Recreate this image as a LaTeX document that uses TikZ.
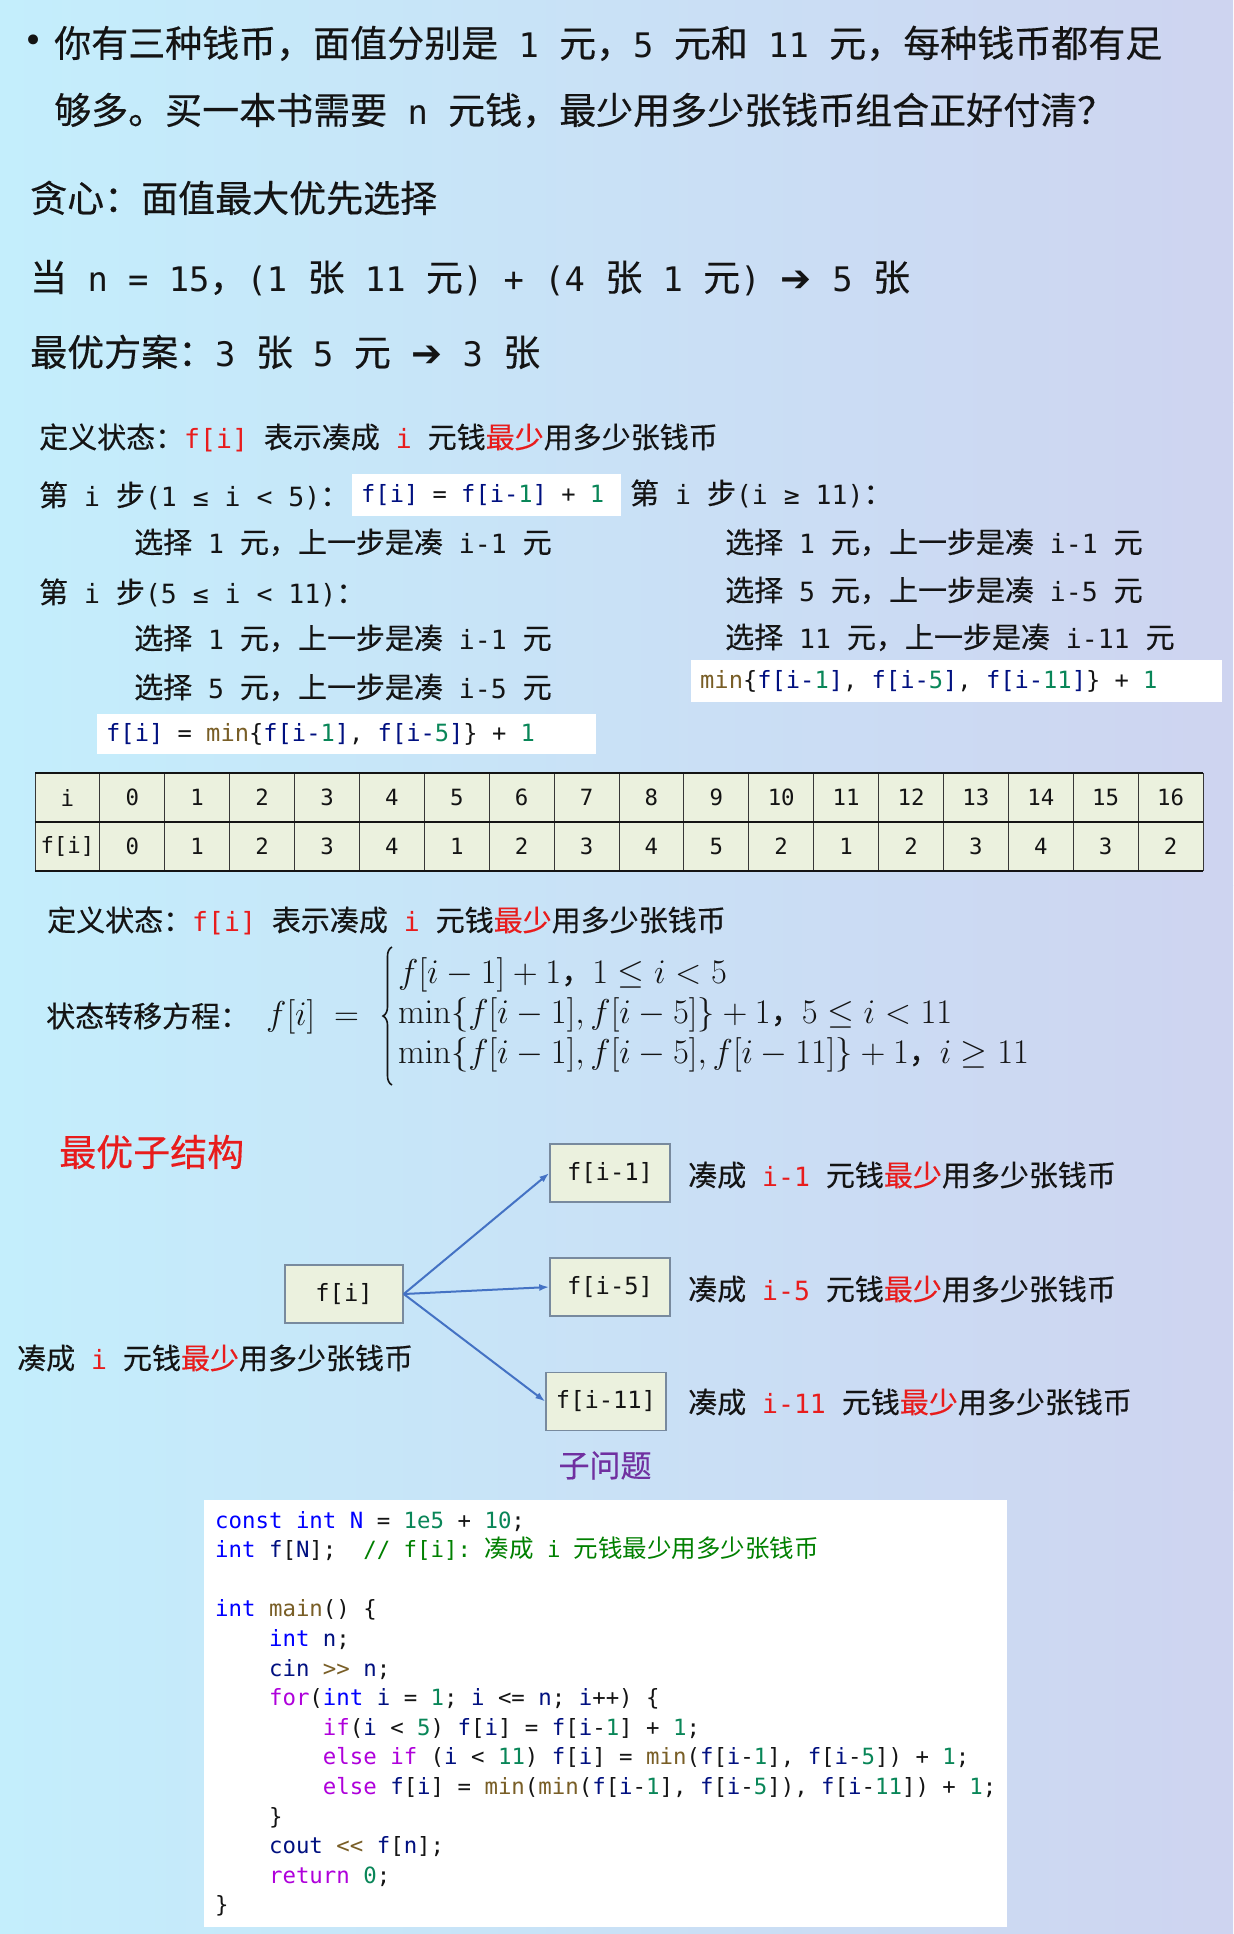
\documentclass[tikz,border=0pt]{standalone}
\usepackage{fix-cm}
\usepackage[no-math]{fontspec}
\setmainfont[FakeBold=0.35]{Noto Sans CJK SC}
\setmonofont[Scale=0.913]{DejaVu Sans Mono}
\newfontfamily\cjkf{Noto Sans CJK SC}
\newfontfamily\symf{DejaVu Sans}
\usetikzlibrary{arrows.meta,decorations.pathreplacing}
\definecolor{ink}{RGB}{20,20,20}
\definecolor{redz}{RGB}{232,28,28}
\definecolor{purz}{RGB}{112,48,160}
\definecolor{cnavy}{RGB}{0,16,128}
\definecolor{cnum}{RGB}{9,134,88}
\definecolor{cfun}{RGB}{121,94,38}
\definecolor{ckw}{RGB}{0,0,255}
\definecolor{cctl}{RGB}{175,0,219}
\definecolor{ccmt}{RGB}{0,128,0}
\definecolor{bgL}{RGB}{196,238,252}
\definecolor{bgM}{RGB}{226,242,252}
\definecolor{bgR}{RGB}{206,212,240}
\definecolor{cellg}{RGB}{235,241,222}
\definecolor{boxb}{RGB}{120,138,158}
\definecolor{arrb}{RGB}{68,114,196}
\newcommand\Tm[1]{{\ttfamily #1}}
\newcommand\Rd[1]{\textcolor{redz}{#1}}
\newcommand\Cv[1]{\textcolor{cnavy}{#1}}
\newcommand\Cn[1]{\textcolor{cnum}{#1}}
\newcommand\Cf[1]{\textcolor{cfun}{#1}}
\newcommand\Ck[1]{\textcolor{ckw}{#1}}
\newcommand\Cc[1]{\textcolor{cctl}{#1}}
\newcommand\Cm[1]{\textcolor{ccmt}{#1}}
\newcommand\Zc{{\fontsize{31bp}{37bp}\selectfont ，}}
\tikzset{
  txt/.style={inner sep=0pt, anchor=base west, text=ink},
  pa/.style={txt, font=\fontsize{37bp}{44bp}\selectfont},
  pb/.style={txt, font=\fontsize{29bp}{35bp}\selectfont},
  mth/.style={txt, font=\fontsize{34.5bp}{41bp}\selectfont},
  whitebox/.style={fill=white, draw=none, inner sep=0pt, anchor=north west},
  boxtext/.style={inner sep=0pt, anchor=west, text=ink, font=\ttfamily\fontsize{26bp}{31bp}\selectfont},
  cell/.style={inner sep=0pt, anchor=center, text=ink, font=\ttfamily\fontsize{24.5bp}{29bp}\selectfont},
  treebox/.style={fill=cellg, draw=boxb, line width=1.5bp, inner sep=0pt, text=ink,
    font=\ttfamily\fontsize{26bp}{31bp}\selectfont},
  codeline/.style={inner sep=0pt, anchor=base west, text=ink, font=\ttfamily\fontsize{24.5bp}{29bp}\selectfont},
  arr/.style={draw=arrb, line width=2bp, -{Latex[length=10bp,width=7bp]}},
  thinline/.style={draw=ink!85, line width=0.9bp},
  thickline/.style={draw=ink, line width=2bp},
  casebrace/.style={draw=ink, line width=1.6bp, decorate, decoration={brace, amplitude=9bp}},
}
\begin{document}
\begin{tikzpicture}[x=1bp,y=-1bp]
\useasboundingbox (0,0) rectangle (1233,1934);
% backgrounds
\shade[left color=bgL, middle color=bgM, right color=bgR] (0,0) rectangle (1233,402);
\shade[left color=bgL, middle color=bgM, right color=bgR] (0,402) rectangle (1233,885);
\shade[left color=bgL, middle color=bgM, right color=bgR] (0,885) rectangle (1233,1490);
\shade[left color=bgL, middle color=bgM, right color=bgR] (0,1490) rectangle (1233,1934);

% ---------- panel 1
\node[inner sep=0pt, anchor=center, text=ink, font=\symf\fontsize{34bp}{40bp}\selectfont] (bul) at (34,44) {•};
\node[pa] (l1) at (54,57) {你有三种钱币，面值分别是\Tm{ 1 }元，\Tm{5 }元和\Tm{ 11 }元，每种钱币都有足};
\node[pa] (l2) at (54,124) {够多。买一本书需要\Tm{ n }元钱，最少用多少张钱币组合正好付清？};
\node[pa] (l3) at (30,212) {贪心：面值最大优先选择};
\node[pa] (l4) at (30,291) {当\Tm{ n = 15}，\Tm{(1 }张\Tm{ 11 }元\Tm{) + (4 }张\Tm{ 1 }元\Tm{) }{\symf ➔}\Tm{ 5 }张};
\node[pa] (l5) at (30,366) {最优方案：\Tm{3 }张\Tm{ 5 }元\Tm{ }{\symf ➔}\Tm{ 3 }张};

% ---------- panel 2
\node[pb] (d1) at (39,448) {定义状态：\Rd{\Tm{f[i]}}\Tm{ }表示凑成\Tm{ }\Rd{\Tm{i}}\Tm{ }元钱\Rd{最少}用多少张钱币};
\node[pb] (s1) at (39,506) {第\Tm{ i }步\Tm{(1 ≤ i < 5)}：};
\node[whitebox, minimum width=269bp, minimum height=42bp] (bx1) at (352,474) {};
\node[boxtext] (bx1t) at (361,495) {\Cv{f[i]} = \Cv{f[i-}\Cn{1}\Cv{]} + \Cn{1}};
\node[pb] (s3) at (630,504) {第\Tm{ i }步\Tm{(i ≥ 11)}：};
\node[pb] (c11) at (134,553) {选择\Tm{ 1 }元，上一步是凑\Tm{ i-1 }元};
\node[pb] (s2) at (39,603) {第\Tm{ i }步\Tm{(5 ≤ i < 11)}：};
\node[pb] (c21) at (134,649) {选择\Tm{ 1 }元，上一步是凑\Tm{ i-1 }元};
\node[pb] (c22) at (134,698) {选择\Tm{ 5 }元，上一步是凑\Tm{ i-5 }元};
\node[whitebox, minimum width=499bp, minimum height=40bp] (bx2) at (97,714) {};
\node[boxtext] (bx2t) at (106,734) {\Cv{f[i]} = \Cf{min}\{\Cv{f[i-}\Cn{1}\Cv{]}, \Cv{f[i-}\Cn{5}\Cv{]}\} + \Cn{1}};
\node[pb] (c31) at (725,553) {选择\Tm{ 1 }元，上一步是凑\Tm{ i-1 }元};
\node[pb] (c32) at (725,601) {选择\Tm{ 5 }元，上一步是凑\Tm{ i-5 }元};
\node[pb] (c33) at (725,648) {选择\Tm{ 11 }元，上一步是凑\Tm{ i-11 }元};
\node[whitebox, minimum width=531bp, minimum height=42bp] (bx3) at (691,660) {};
\node[boxtext] (bx3t) at (700,681) {\Cf{min}\{\Cv{f[i-}\Cn{1}\Cv{]}, \Cv{f[i-}\Cn{5}\Cv{]}, \Cv{f[i-}\Cn{11}\Cv{]}\} + \Cn{1}};

% table
\fill[cellg] (35,773) rectangle (1203,871);
\foreach \k in {0,...,18} \draw[thinline] ({35+64.889*\k},773) -- ({35+64.889*\k},871);
\draw[thickline] (35,773) -- (1203,773);
\draw[thickline] (35,822) -- (1203,822);
\draw[thickline] (35,871) -- (1203,871);
\foreach \v [count=\k from 0] in {i,0,1,2,3,4,5,6,7,8,9,10,11,12,13,14,15,16}
  \node[cell] (ti\k) at ({35+64.889*\k+32.44},797.5) {\v};
\foreach \v [count=\k from 0] in {f[i],0,1,2,3,4,1,2,3,4,5,2,1,2,3,4,3,2}
  \node[cell] (tf\k) at ({35+64.889*\k+32.44},846.5) {\v};

% ---------- panel 3
\node[pb] (e1) at (47,931) {定义状态：\Rd{\Tm{f[i]}}\Tm{ }表示凑成\Tm{ }\Rd{\Tm{i}}\Tm{ }元钱\Rd{最少}用多少张钱币};
\node[pb] (e2) at (46,1027) {状态转移方程：};
\node[mth] (e3) at (266,1025) {$f[i]$};
\node[mth] (e4) at (334,1025) {$=$};
\coordinate (brB) at (392,1085);
\coordinate (brT) at (392,947);
\draw[casebrace] (brB) -- (brT);
\node[mth] (q1) at (398,983) {$f[i-1]+1$\Zc$1\le i<5$};
\node[mth] (q2) at (398,1023) {$\min\{f[i-1],f[i-5]\}+1$\Zc$5\le i<11$};
\node[mth] (q3) at (398,1063) {$\min\{f[i-1],f[i-5],f[i-11]\}+1$\Zc$i\ge 11$};

\node[txt, font=\fontsize{37bp}{44bp}\selectfont, text=redz] (ozj) at (59,1166) {最优子结构};

\node[treebox, minimum width=118bp, minimum height=58bp] (fi) at (344,1294) {f[i]};
\node[treebox, minimum width=120bp, minimum height=58bp] (f1) at (610,1173) {f[i-1]};
\node[treebox, minimum width=120bp, minimum height=58bp] (f5) at (610,1287) {f[i-5]};
\node[treebox, minimum width=120bp, minimum height=58bp] (f11) at (606,1401.5) {f[i-11]};
\draw[arr] (fi.east) -- (f1.west);
\draw[arr] (fi.east) -- (f5.west);
\draw[arr] (fi.east) -- (f11.west);

\node[pb] (g1) at (688,1186) {凑成\Tm{ }\Rd{\Tm{i-1}}\Tm{ }元钱\Rd{最少}用多少张钱币};
\node[pb] (g5) at (688,1300) {凑成\Tm{ }\Rd{\Tm{i-5}}\Tm{ }元钱\Rd{最少}用多少张钱币};
\node[pb] (g11) at (688,1413) {凑成\Tm{ }\Rd{\Tm{i-11}}\Tm{ }元钱\Rd{最少}用多少张钱币};
\node[pb] (g0) at (17,1369) {凑成\Tm{ }\Rd{\Tm{i}}\Tm{ }元钱\Rd{最少}用多少张钱币};
\node[inner sep=0pt, anchor=base, text=purz, font=\fontsize{31bp}{37bp}\selectfont] (zwt) at (605,1477) {子问题};

% ---------- panel 4 code
\node[whitebox, minimum width=803bp, minimum height=427bp] (code) at (204,1500) {};
\def\cw{13.47}
\node[codeline] (k1) at (215,1528) {\Ck{const} \Ck{int} \Ck{N} = \Cn{1e5} + \Cn{10};};
\node[codeline] (k2) at (215,1557.6) {\Ck{int} \Cv{f}[\Cv{N}];\ \ \Cm{// f[i]: {\cjkf 凑成} i {\cjkf 元钱最少用多少张钱币}}};
\node[codeline] (k4) at (215,1616.8) {\Ck{int} \Cf{main}() \{};
\node[codeline] (k5) at ({215+4*\cw},1646.4) {\Ck{int} \Cv{n};};
\node[codeline] (k6) at ({215+4*\cw},1676) {\Cv{cin} \Cf{>>} \Cv{n};};
\node[codeline] (k7) at ({215+4*\cw},1705.6) {\Cc{for}(\Ck{int} \Cv{i} = \Cn{1}; \Cv{i} <= \Cv{n}; \Cv{i}++) \{};
\node[codeline] (k8) at ({215+8*\cw},1735.2) {\Cc{if}(\Cv{i} < \Cn{5}) \Cv{f}[\Cv{i}] = \Cv{f}[\Cv{i}-\Cn{1}] + \Cn{1};};
\node[codeline] (k9) at ({215+8*\cw},1764.8) {\Cc{else} \Cc{if} (\Cv{i} < \Cn{11}) \Cv{f}[\Cv{i}] = \Cf{min}(\Cv{f}[\Cv{i}-\Cn{1}], \Cv{f}[\Cv{i}-\Cn{5}]) + \Cn{1};};
\node[codeline] (k10) at ({215+8*\cw},1794.4) {\Cc{else} \Cv{f}[\Cv{i}] = \Cf{min}(\Cf{min}(\Cv{f}[\Cv{i}-\Cn{1}], \Cv{f}[\Cv{i}-\Cn{5}]), \Cv{f}[\Cv{i}-\Cn{11}]) + \Cn{1};};
\node[codeline] (k11) at ({215+4*\cw},1824) {\}};
\node[codeline] (k12) at ({215+4*\cw},1853.6) {\Cv{cout} \Cf{<<} \Cv{f}[\Cv{n}];};
\node[codeline] (k13) at ({215+4*\cw},1883.2) {\Cc{return} \Cn{0};};
\node[codeline] (k14) at (215,1912.8) {\}};
\end{tikzpicture}
\end{document}
